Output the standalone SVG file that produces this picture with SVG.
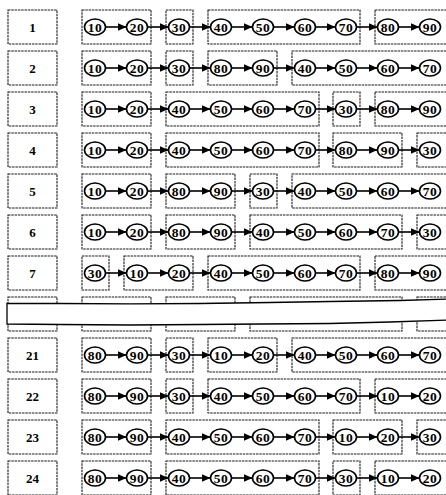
<svg xmlns="http://www.w3.org/2000/svg" width="446" height="495" viewBox="0 0 446 495">
<defs>
<style>
.lb{fill:#fff;stroke:#1a1a1a;stroke-width:1.1;stroke-dasharray:2.5 0.8}
.gb{fill:none;stroke:#1a1a1a;stroke-width:1.1;stroke-dasharray:2.5 0.8}
.n ellipse{fill:#fff;stroke:#000;stroke-width:1.6}
text{font-family:"Liberation Serif","Times New Roman",serif;font-weight:bold;text-anchor:middle;fill:#000}
.n text{font-size:13.5px;letter-spacing:0.5px}
.lt{font-size:13px}
.c line{stroke:#000;stroke-width:1.6}
.band{fill:#fff;stroke:#000;stroke-width:1.3}
</style>
<marker id="ah" markerUnits="userSpaceOnUse" markerWidth="9" markerHeight="8" refX="9" refY="4" orient="auto"><path d="M0,0 L9,4 L0,8 Z" fill="#000"/></marker>
</defs>
<rect width="446" height="495" fill="#fff"/>

<g id="labels">
<g id="L1"><rect class="lb" x="8" y="10" width="49" height="34"/><text class="lt" x="32.5" y="31.5">1</text></g>
<g id="L2"><rect class="lb" x="8" y="51" width="49" height="34"/><text class="lt" x="32.5" y="72.5">2</text></g>
<g id="L3"><rect class="lb" x="8" y="92" width="49" height="34"/><text class="lt" x="32.5" y="113.5">3</text></g>
<g id="L4"><rect class="lb" x="8" y="133" width="49" height="34"/><text class="lt" x="32.5" y="154.5">4</text></g>
<g id="L5"><rect class="lb" x="8" y="174" width="49" height="34"/><text class="lt" x="32.5" y="195.5">5</text></g>
<g id="L6"><rect class="lb" x="8" y="215" width="49" height="34"/><text class="lt" x="32.5" y="236.5">6</text></g>
<g id="L7"><rect class="lb" x="8" y="256" width="49" height="34"/><text class="lt" x="32.5" y="277.5">7</text></g>
<g id="L21"><rect class="lb" x="8" y="338" width="49" height="34"/><text class="lt" x="32.5" y="359.5">21</text></g>
<g id="L22"><rect class="lb" x="8" y="379" width="49" height="34"/><text class="lt" x="32.5" y="400.5">22</text></g>
<g id="L23"><rect class="lb" x="8" y="420" width="49" height="34"/><text class="lt" x="32.5" y="441.5">23</text></g>
<g id="L24"><rect class="lb" x="8" y="461" width="49" height="34"/><text class="lt" x="32.5" y="482.5">24</text></g>
</g>

<g id="groups">
<rect class="gb" x="82" y="10" width="69" height="34"/><rect class="gb" x="166" y="10" width="27" height="34"/><rect class="gb" x="208" y="10" width="152" height="34"/><rect class="gb" x="375" y="10" width="73" height="34"/>
<rect class="gb" x="82" y="51" width="69" height="34"/><rect class="gb" x="166" y="51" width="27" height="34"/><rect class="gb" x="208" y="51" width="69" height="34"/><rect class="gb" x="292" y="51" width="156" height="34"/>
<rect class="gb" x="82" y="92" width="69" height="34"/><rect class="gb" x="166" y="92" width="153" height="34"/><rect class="gb" x="333" y="92" width="27" height="34"/><rect class="gb" x="375" y="92" width="73" height="34"/>
<rect class="gb" x="82" y="133" width="69" height="34"/><rect class="gb" x="166" y="133" width="153" height="34"/><rect class="gb" x="333" y="133" width="69" height="34"/><rect class="gb" x="417" y="133" width="31" height="34"/>
<rect class="gb" x="82" y="174" width="69" height="34"/><rect class="gb" x="166" y="174" width="69" height="34"/><rect class="gb" x="250" y="174" width="27" height="34"/><rect class="gb" x="292" y="174" width="156" height="34"/>
<rect class="gb" x="82" y="215" width="69" height="34"/><rect class="gb" x="166" y="215" width="69" height="34"/><rect class="gb" x="250" y="215" width="152" height="34"/><rect class="gb" x="417" y="215" width="31" height="34"/>
<rect class="gb" x="82" y="256" width="27" height="34"/><rect class="gb" x="124" y="256" width="69" height="34"/><rect class="gb" x="208" y="256" width="152" height="34"/><rect class="gb" x="375" y="256" width="73" height="34"/>
<rect class="gb" x="82" y="338" width="69" height="34"/><rect class="gb" x="166" y="338" width="27" height="34"/><rect class="gb" x="208" y="338" width="69" height="34"/><rect class="gb" x="292" y="338" width="156" height="34"/>
<rect class="gb" x="82" y="379" width="69" height="34"/><rect class="gb" x="166" y="379" width="27" height="34"/><rect class="gb" x="208" y="379" width="152" height="34"/><rect class="gb" x="375" y="379" width="73" height="34"/>
<rect class="gb" x="82" y="420" width="69" height="34"/><rect class="gb" x="166" y="420" width="153" height="34"/><rect class="gb" x="333" y="420" width="69" height="34"/><rect class="gb" x="417" y="420" width="31" height="34"/>
<rect class="gb" x="82" y="461" width="69" height="34"/><rect class="gb" x="166" y="461" width="153" height="34"/><rect class="gb" x="333" y="461" width="27" height="34"/><rect class="gb" x="375" y="461" width="73" height="34"/>
</g>

<g id="break">
<rect class="lb" x="8" y="297" width="49" height="34"/>
<rect class="gb" x="82" y="297" width="69" height="34"/><rect class="gb" x="166" y="297" width="69" height="34"/><rect class="gb" x="250" y="297" width="152" height="34"/><rect class="gb" x="417" y="297" width="31" height="34"/>
<path class="band" d="M452,299 L400,300.5 L330,301.5 L270,302.5 L200,303.5 L130,303.8 L60,303.5 L7,303.5 L7,324 L60,324.5 L130,325 L200,324.5 L262,324 L330,323.5 L390,322 L452,320"/>
</g>

<g id="connectors" class="c">
<line x1="105.5" y1="27" x2="126.5" y2="27" marker-end="url(#ah)"/><line x1="147.5" y1="27" x2="168.5" y2="27" marker-end="url(#ah)"/><line x1="189.5" y1="27" x2="210.5" y2="27" marker-end="url(#ah)"/><line x1="231.5" y1="27" x2="252.5" y2="27" marker-end="url(#ah)"/><line x1="273.5" y1="27" x2="294.5" y2="27" marker-end="url(#ah)"/><line x1="315.5" y1="27" x2="335.5" y2="27" marker-end="url(#ah)"/><line x1="356.5" y1="27" x2="377.5" y2="27" marker-end="url(#ah)"/><line x1="398.5" y1="27" x2="419.5" y2="27" marker-end="url(#ah)"/>
<line x1="105.5" y1="68" x2="126.5" y2="68" marker-end="url(#ah)"/><line x1="147.5" y1="68" x2="168.5" y2="68" marker-end="url(#ah)"/><line x1="189.5" y1="68" x2="210.5" y2="68" marker-end="url(#ah)"/><line x1="231.5" y1="68" x2="252.5" y2="68" marker-end="url(#ah)"/><line x1="273.5" y1="68" x2="294.5" y2="68" marker-end="url(#ah)"/><line x1="315.5" y1="68" x2="335.5" y2="68" marker-end="url(#ah)"/><line x1="356.5" y1="68" x2="377.5" y2="68" marker-end="url(#ah)"/><line x1="398.5" y1="68" x2="419.5" y2="68" marker-end="url(#ah)"/>
<line x1="105.5" y1="109" x2="126.5" y2="109" marker-end="url(#ah)"/><line x1="147.5" y1="109" x2="168.5" y2="109" marker-end="url(#ah)"/><line x1="189.5" y1="109" x2="210.5" y2="109" marker-end="url(#ah)"/><line x1="231.5" y1="109" x2="252.5" y2="109" marker-end="url(#ah)"/><line x1="273.5" y1="109" x2="294.5" y2="109" marker-end="url(#ah)"/><line x1="315.5" y1="109" x2="335.5" y2="109" marker-end="url(#ah)"/><line x1="356.5" y1="109" x2="377.5" y2="109" marker-end="url(#ah)"/><line x1="398.5" y1="109" x2="419.5" y2="109" marker-end="url(#ah)"/>
<line x1="105.5" y1="150" x2="126.5" y2="150" marker-end="url(#ah)"/><line x1="147.5" y1="150" x2="168.5" y2="150" marker-end="url(#ah)"/><line x1="189.5" y1="150" x2="210.5" y2="150" marker-end="url(#ah)"/><line x1="231.5" y1="150" x2="252.5" y2="150" marker-end="url(#ah)"/><line x1="273.5" y1="150" x2="294.5" y2="150" marker-end="url(#ah)"/><line x1="315.5" y1="150" x2="335.5" y2="150" marker-end="url(#ah)"/><line x1="356.5" y1="150" x2="377.5" y2="150" marker-end="url(#ah)"/><line x1="398.5" y1="150" x2="419.5" y2="150" marker-end="url(#ah)"/>
<line x1="105.5" y1="191" x2="126.5" y2="191" marker-end="url(#ah)"/><line x1="147.5" y1="191" x2="168.5" y2="191" marker-end="url(#ah)"/><line x1="189.5" y1="191" x2="210.5" y2="191" marker-end="url(#ah)"/><line x1="231.5" y1="191" x2="252.5" y2="191" marker-end="url(#ah)"/><line x1="273.5" y1="191" x2="294.5" y2="191" marker-end="url(#ah)"/><line x1="315.5" y1="191" x2="335.5" y2="191" marker-end="url(#ah)"/><line x1="356.5" y1="191" x2="377.5" y2="191" marker-end="url(#ah)"/><line x1="398.5" y1="191" x2="419.5" y2="191" marker-end="url(#ah)"/>
<line x1="105.5" y1="232" x2="126.5" y2="232" marker-end="url(#ah)"/><line x1="147.5" y1="232" x2="168.5" y2="232" marker-end="url(#ah)"/><line x1="189.5" y1="232" x2="210.5" y2="232" marker-end="url(#ah)"/><line x1="231.5" y1="232" x2="252.5" y2="232" marker-end="url(#ah)"/><line x1="273.5" y1="232" x2="294.5" y2="232" marker-end="url(#ah)"/><line x1="315.5" y1="232" x2="335.5" y2="232" marker-end="url(#ah)"/><line x1="356.5" y1="232" x2="377.5" y2="232" marker-end="url(#ah)"/><line x1="398.5" y1="232" x2="419.5" y2="232" marker-end="url(#ah)"/>
<line x1="105.5" y1="273" x2="126.5" y2="273" marker-end="url(#ah)"/><line x1="147.5" y1="273" x2="168.5" y2="273" marker-end="url(#ah)"/><line x1="189.5" y1="273" x2="210.5" y2="273" marker-end="url(#ah)"/><line x1="231.5" y1="273" x2="252.5" y2="273" marker-end="url(#ah)"/><line x1="273.5" y1="273" x2="294.5" y2="273" marker-end="url(#ah)"/><line x1="315.5" y1="273" x2="335.5" y2="273" marker-end="url(#ah)"/><line x1="356.5" y1="273" x2="377.5" y2="273" marker-end="url(#ah)"/><line x1="398.5" y1="273" x2="419.5" y2="273" marker-end="url(#ah)"/>
<line x1="105.5" y1="355" x2="126.5" y2="355" marker-end="url(#ah)"/><line x1="147.5" y1="355" x2="168.5" y2="355" marker-end="url(#ah)"/><line x1="189.5" y1="355" x2="210.5" y2="355" marker-end="url(#ah)"/><line x1="231.5" y1="355" x2="252.5" y2="355" marker-end="url(#ah)"/><line x1="273.5" y1="355" x2="294.5" y2="355" marker-end="url(#ah)"/><line x1="315.5" y1="355" x2="335.5" y2="355" marker-end="url(#ah)"/><line x1="356.5" y1="355" x2="377.5" y2="355" marker-end="url(#ah)"/><line x1="398.5" y1="355" x2="419.5" y2="355" marker-end="url(#ah)"/>
<line x1="105.5" y1="396" x2="126.5" y2="396" marker-end="url(#ah)"/><line x1="147.5" y1="396" x2="168.5" y2="396" marker-end="url(#ah)"/><line x1="189.5" y1="396" x2="210.5" y2="396" marker-end="url(#ah)"/><line x1="231.5" y1="396" x2="252.5" y2="396" marker-end="url(#ah)"/><line x1="273.5" y1="396" x2="294.5" y2="396" marker-end="url(#ah)"/><line x1="315.5" y1="396" x2="335.5" y2="396" marker-end="url(#ah)"/><line x1="356.5" y1="396" x2="377.5" y2="396" marker-end="url(#ah)"/><line x1="398.5" y1="396" x2="419.5" y2="396" marker-end="url(#ah)"/>
<line x1="105.5" y1="437" x2="126.5" y2="437" marker-end="url(#ah)"/><line x1="147.5" y1="437" x2="168.5" y2="437" marker-end="url(#ah)"/><line x1="189.5" y1="437" x2="210.5" y2="437" marker-end="url(#ah)"/><line x1="231.5" y1="437" x2="252.5" y2="437" marker-end="url(#ah)"/><line x1="273.5" y1="437" x2="294.5" y2="437" marker-end="url(#ah)"/><line x1="315.5" y1="437" x2="335.5" y2="437" marker-end="url(#ah)"/><line x1="356.5" y1="437" x2="377.5" y2="437" marker-end="url(#ah)"/><line x1="398.5" y1="437" x2="419.5" y2="437" marker-end="url(#ah)"/>
<line x1="105.5" y1="478" x2="126.5" y2="478" marker-end="url(#ah)"/><line x1="147.5" y1="478" x2="168.5" y2="478" marker-end="url(#ah)"/><line x1="189.5" y1="478" x2="210.5" y2="478" marker-end="url(#ah)"/><line x1="231.5" y1="478" x2="252.5" y2="478" marker-end="url(#ah)"/><line x1="273.5" y1="478" x2="294.5" y2="478" marker-end="url(#ah)"/><line x1="315.5" y1="478" x2="335.5" y2="478" marker-end="url(#ah)"/><line x1="356.5" y1="478" x2="377.5" y2="478" marker-end="url(#ah)"/><line x1="398.5" y1="478" x2="419.5" y2="478" marker-end="url(#ah)"/>
</g>

<g id="nodes">
<g id="r1" transform="translate(0,27)">
<g id="r1n1" class="n"><ellipse cx="95" cy="0" rx="10.5" ry="8"/><text x="95" y="4.5">10</text></g>
<g id="r1n2" class="n"><ellipse cx="137" cy="0" rx="10.5" ry="8"/><text x="137" y="4.5">20</text></g>
<g id="r1n3" class="n"><ellipse cx="179" cy="0" rx="10.5" ry="8"/><text x="179" y="4.5">30</text></g>
<g id="r1n4" class="n"><ellipse cx="221" cy="0" rx="10.5" ry="8"/><text x="221" y="4.5">40</text></g>
<g id="r1n5" class="n"><ellipse cx="263" cy="0" rx="10.5" ry="8"/><text x="263" y="4.5">50</text></g>
<g id="r1n6" class="n"><ellipse cx="305" cy="0" rx="10.5" ry="8"/><text x="305" y="4.5">60</text></g>
<g id="r1n7" class="n"><ellipse cx="346" cy="0" rx="10.5" ry="8"/><text x="346" y="4.5">70</text></g>
<g id="r1n8" class="n"><ellipse cx="388" cy="0" rx="10.5" ry="8"/><text x="388" y="4.5">80</text></g>
<g id="r1n9" class="n"><ellipse cx="430" cy="0" rx="10.5" ry="8"/><text x="430" y="4.5">90</text></g>
</g>
<g id="r2" transform="translate(0,68)">
<g id="r2n1" class="n"><ellipse cx="95" cy="0" rx="10.5" ry="8"/><text x="95" y="4.5">10</text></g>
<g id="r2n2" class="n"><ellipse cx="137" cy="0" rx="10.5" ry="8"/><text x="137" y="4.5">20</text></g>
<g id="r2n3" class="n"><ellipse cx="179" cy="0" rx="10.5" ry="8"/><text x="179" y="4.5">30</text></g>
<g id="r2n4" class="n"><ellipse cx="221" cy="0" rx="10.5" ry="8"/><text x="221" y="4.5">80</text></g>
<g id="r2n5" class="n"><ellipse cx="263" cy="0" rx="10.5" ry="8"/><text x="263" y="4.5">90</text></g>
<g id="r2n6" class="n"><ellipse cx="305" cy="0" rx="10.5" ry="8"/><text x="305" y="4.5">40</text></g>
<g id="r2n7" class="n"><ellipse cx="346" cy="0" rx="10.5" ry="8"/><text x="346" y="4.5">50</text></g>
<g id="r2n8" class="n"><ellipse cx="388" cy="0" rx="10.5" ry="8"/><text x="388" y="4.5">60</text></g>
<g id="r2n9" class="n"><ellipse cx="430" cy="0" rx="10.5" ry="8"/><text x="430" y="4.5">70</text></g>
</g>
<g id="r3" transform="translate(0,109)">
<g id="r3n1" class="n"><ellipse cx="95" cy="0" rx="10.5" ry="8"/><text x="95" y="4.5">10</text></g>
<g id="r3n2" class="n"><ellipse cx="137" cy="0" rx="10.5" ry="8"/><text x="137" y="4.5">20</text></g>
<g id="r3n3" class="n"><ellipse cx="179" cy="0" rx="10.5" ry="8"/><text x="179" y="4.5">40</text></g>
<g id="r3n4" class="n"><ellipse cx="221" cy="0" rx="10.5" ry="8"/><text x="221" y="4.5">50</text></g>
<g id="r3n5" class="n"><ellipse cx="263" cy="0" rx="10.5" ry="8"/><text x="263" y="4.5">60</text></g>
<g id="r3n6" class="n"><ellipse cx="305" cy="0" rx="10.5" ry="8"/><text x="305" y="4.5">70</text></g>
<g id="r3n7" class="n"><ellipse cx="346" cy="0" rx="10.5" ry="8"/><text x="346" y="4.5">30</text></g>
<g id="r3n8" class="n"><ellipse cx="388" cy="0" rx="10.5" ry="8"/><text x="388" y="4.5">80</text></g>
<g id="r3n9" class="n"><ellipse cx="430" cy="0" rx="10.5" ry="8"/><text x="430" y="4.5">90</text></g>
</g>
<g id="r4" transform="translate(0,150)">
<g id="r4n1" class="n"><ellipse cx="95" cy="0" rx="10.5" ry="8"/><text x="95" y="4.5">10</text></g>
<g id="r4n2" class="n"><ellipse cx="137" cy="0" rx="10.5" ry="8"/><text x="137" y="4.5">20</text></g>
<g id="r4n3" class="n"><ellipse cx="179" cy="0" rx="10.5" ry="8"/><text x="179" y="4.5">40</text></g>
<g id="r4n4" class="n"><ellipse cx="221" cy="0" rx="10.5" ry="8"/><text x="221" y="4.5">50</text></g>
<g id="r4n5" class="n"><ellipse cx="263" cy="0" rx="10.5" ry="8"/><text x="263" y="4.5">60</text></g>
<g id="r4n6" class="n"><ellipse cx="305" cy="0" rx="10.5" ry="8"/><text x="305" y="4.5">70</text></g>
<g id="r4n7" class="n"><ellipse cx="346" cy="0" rx="10.5" ry="8"/><text x="346" y="4.5">80</text></g>
<g id="r4n8" class="n"><ellipse cx="388" cy="0" rx="10.5" ry="8"/><text x="388" y="4.5">90</text></g>
<g id="r4n9" class="n"><ellipse cx="430" cy="0" rx="10.5" ry="8"/><text x="430" y="4.5">30</text></g>
</g>
<g id="r5" transform="translate(0,191)">
<g id="r5n1" class="n"><ellipse cx="95" cy="0" rx="10.5" ry="8"/><text x="95" y="4.5">10</text></g>
<g id="r5n2" class="n"><ellipse cx="137" cy="0" rx="10.5" ry="8"/><text x="137" y="4.5">20</text></g>
<g id="r5n3" class="n"><ellipse cx="179" cy="0" rx="10.5" ry="8"/><text x="179" y="4.5">80</text></g>
<g id="r5n4" class="n"><ellipse cx="221" cy="0" rx="10.5" ry="8"/><text x="221" y="4.5">90</text></g>
<g id="r5n5" class="n"><ellipse cx="263" cy="0" rx="10.5" ry="8"/><text x="263" y="4.5">30</text></g>
<g id="r5n6" class="n"><ellipse cx="305" cy="0" rx="10.5" ry="8"/><text x="305" y="4.5">40</text></g>
<g id="r5n7" class="n"><ellipse cx="346" cy="0" rx="10.5" ry="8"/><text x="346" y="4.5">50</text></g>
<g id="r5n8" class="n"><ellipse cx="388" cy="0" rx="10.5" ry="8"/><text x="388" y="4.5">60</text></g>
<g id="r5n9" class="n"><ellipse cx="430" cy="0" rx="10.5" ry="8"/><text x="430" y="4.5">70</text></g>
</g>
<g id="r6" transform="translate(0,232)">
<g id="r6n1" class="n"><ellipse cx="95" cy="0" rx="10.5" ry="8"/><text x="95" y="4.5">10</text></g>
<g id="r6n2" class="n"><ellipse cx="137" cy="0" rx="10.5" ry="8"/><text x="137" y="4.5">20</text></g>
<g id="r6n3" class="n"><ellipse cx="179" cy="0" rx="10.5" ry="8"/><text x="179" y="4.5">80</text></g>
<g id="r6n4" class="n"><ellipse cx="221" cy="0" rx="10.5" ry="8"/><text x="221" y="4.5">90</text></g>
<g id="r6n5" class="n"><ellipse cx="263" cy="0" rx="10.5" ry="8"/><text x="263" y="4.5">40</text></g>
<g id="r6n6" class="n"><ellipse cx="305" cy="0" rx="10.5" ry="8"/><text x="305" y="4.5">50</text></g>
<g id="r6n7" class="n"><ellipse cx="346" cy="0" rx="10.5" ry="8"/><text x="346" y="4.5">60</text></g>
<g id="r6n8" class="n"><ellipse cx="388" cy="0" rx="10.5" ry="8"/><text x="388" y="4.5">70</text></g>
<g id="r6n9" class="n"><ellipse cx="430" cy="0" rx="10.5" ry="8"/><text x="430" y="4.5">30</text></g>
</g>
<g id="r7" transform="translate(0,273)">
<g id="r7n1" class="n"><ellipse cx="95" cy="0" rx="10.5" ry="8"/><text x="95" y="4.5">30</text></g>
<g id="r7n2" class="n"><ellipse cx="137" cy="0" rx="10.5" ry="8"/><text x="137" y="4.5">10</text></g>
<g id="r7n3" class="n"><ellipse cx="179" cy="0" rx="10.5" ry="8"/><text x="179" y="4.5">20</text></g>
<g id="r7n4" class="n"><ellipse cx="221" cy="0" rx="10.5" ry="8"/><text x="221" y="4.5">40</text></g>
<g id="r7n5" class="n"><ellipse cx="263" cy="0" rx="10.5" ry="8"/><text x="263" y="4.5">50</text></g>
<g id="r7n6" class="n"><ellipse cx="305" cy="0" rx="10.5" ry="8"/><text x="305" y="4.5">60</text></g>
<g id="r7n7" class="n"><ellipse cx="346" cy="0" rx="10.5" ry="8"/><text x="346" y="4.5">70</text></g>
<g id="r7n8" class="n"><ellipse cx="388" cy="0" rx="10.5" ry="8"/><text x="388" y="4.5">80</text></g>
<g id="r7n9" class="n"><ellipse cx="430" cy="0" rx="10.5" ry="8"/><text x="430" y="4.5">90</text></g>
</g>
<g id="r21" transform="translate(0,355)">
<g id="r21n1" class="n"><ellipse cx="95" cy="0" rx="10.5" ry="8"/><text x="95" y="4.5">80</text></g>
<g id="r21n2" class="n"><ellipse cx="137" cy="0" rx="10.5" ry="8"/><text x="137" y="4.5">90</text></g>
<g id="r21n3" class="n"><ellipse cx="179" cy="0" rx="10.5" ry="8"/><text x="179" y="4.5">30</text></g>
<g id="r21n4" class="n"><ellipse cx="221" cy="0" rx="10.5" ry="8"/><text x="221" y="4.5">10</text></g>
<g id="r21n5" class="n"><ellipse cx="263" cy="0" rx="10.5" ry="8"/><text x="263" y="4.5">20</text></g>
<g id="r21n6" class="n"><ellipse cx="305" cy="0" rx="10.5" ry="8"/><text x="305" y="4.5">40</text></g>
<g id="r21n7" class="n"><ellipse cx="346" cy="0" rx="10.5" ry="8"/><text x="346" y="4.5">50</text></g>
<g id="r21n8" class="n"><ellipse cx="388" cy="0" rx="10.5" ry="8"/><text x="388" y="4.5">60</text></g>
<g id="r21n9" class="n"><ellipse cx="430" cy="0" rx="10.5" ry="8"/><text x="430" y="4.5">70</text></g>
</g>
<g id="r22" transform="translate(0,396)">
<g id="r22n1" class="n"><ellipse cx="95" cy="0" rx="10.5" ry="8"/><text x="95" y="4.5">80</text></g>
<g id="r22n2" class="n"><ellipse cx="137" cy="0" rx="10.5" ry="8"/><text x="137" y="4.5">90</text></g>
<g id="r22n3" class="n"><ellipse cx="179" cy="0" rx="10.5" ry="8"/><text x="179" y="4.5">30</text></g>
<g id="r22n4" class="n"><ellipse cx="221" cy="0" rx="10.5" ry="8"/><text x="221" y="4.5">40</text></g>
<g id="r22n5" class="n"><ellipse cx="263" cy="0" rx="10.5" ry="8"/><text x="263" y="4.5">50</text></g>
<g id="r22n6" class="n"><ellipse cx="305" cy="0" rx="10.5" ry="8"/><text x="305" y="4.5">60</text></g>
<g id="r22n7" class="n"><ellipse cx="346" cy="0" rx="10.5" ry="8"/><text x="346" y="4.5">70</text></g>
<g id="r22n8" class="n"><ellipse cx="388" cy="0" rx="10.5" ry="8"/><text x="388" y="4.5">10</text></g>
<g id="r22n9" class="n"><ellipse cx="430" cy="0" rx="10.5" ry="8"/><text x="430" y="4.5">20</text></g>
</g>
<g id="r23" transform="translate(0,437)">
<g id="r23n1" class="n"><ellipse cx="95" cy="0" rx="10.5" ry="8"/><text x="95" y="4.5">80</text></g>
<g id="r23n2" class="n"><ellipse cx="137" cy="0" rx="10.5" ry="8"/><text x="137" y="4.5">90</text></g>
<g id="r23n3" class="n"><ellipse cx="179" cy="0" rx="10.5" ry="8"/><text x="179" y="4.5">40</text></g>
<g id="r23n4" class="n"><ellipse cx="221" cy="0" rx="10.5" ry="8"/><text x="221" y="4.5">50</text></g>
<g id="r23n5" class="n"><ellipse cx="263" cy="0" rx="10.5" ry="8"/><text x="263" y="4.5">60</text></g>
<g id="r23n6" class="n"><ellipse cx="305" cy="0" rx="10.5" ry="8"/><text x="305" y="4.5">70</text></g>
<g id="r23n7" class="n"><ellipse cx="346" cy="0" rx="10.5" ry="8"/><text x="346" y="4.5">10</text></g>
<g id="r23n8" class="n"><ellipse cx="388" cy="0" rx="10.5" ry="8"/><text x="388" y="4.5">20</text></g>
<g id="r23n9" class="n"><ellipse cx="430" cy="0" rx="10.5" ry="8"/><text x="430" y="4.5">30</text></g>
</g>
<g id="r24" transform="translate(0,478)">
<g id="r24n1" class="n"><ellipse cx="95" cy="0" rx="10.5" ry="8"/><text x="95" y="4.5">80</text></g>
<g id="r24n2" class="n"><ellipse cx="137" cy="0" rx="10.5" ry="8"/><text x="137" y="4.5">90</text></g>
<g id="r24n3" class="n"><ellipse cx="179" cy="0" rx="10.5" ry="8"/><text x="179" y="4.5">40</text></g>
<g id="r24n4" class="n"><ellipse cx="221" cy="0" rx="10.5" ry="8"/><text x="221" y="4.5">50</text></g>
<g id="r24n5" class="n"><ellipse cx="263" cy="0" rx="10.5" ry="8"/><text x="263" y="4.5">60</text></g>
<g id="r24n6" class="n"><ellipse cx="305" cy="0" rx="10.5" ry="8"/><text x="305" y="4.5">70</text></g>
<g id="r24n7" class="n"><ellipse cx="346" cy="0" rx="10.5" ry="8"/><text x="346" y="4.5">30</text></g>
<g id="r24n8" class="n"><ellipse cx="388" cy="0" rx="10.5" ry="8"/><text x="388" y="4.5">10</text></g>
<g id="r24n9" class="n"><ellipse cx="430" cy="0" rx="10.5" ry="8"/><text x="430" y="4.5">20</text></g>
</g>
</g>
</svg>
